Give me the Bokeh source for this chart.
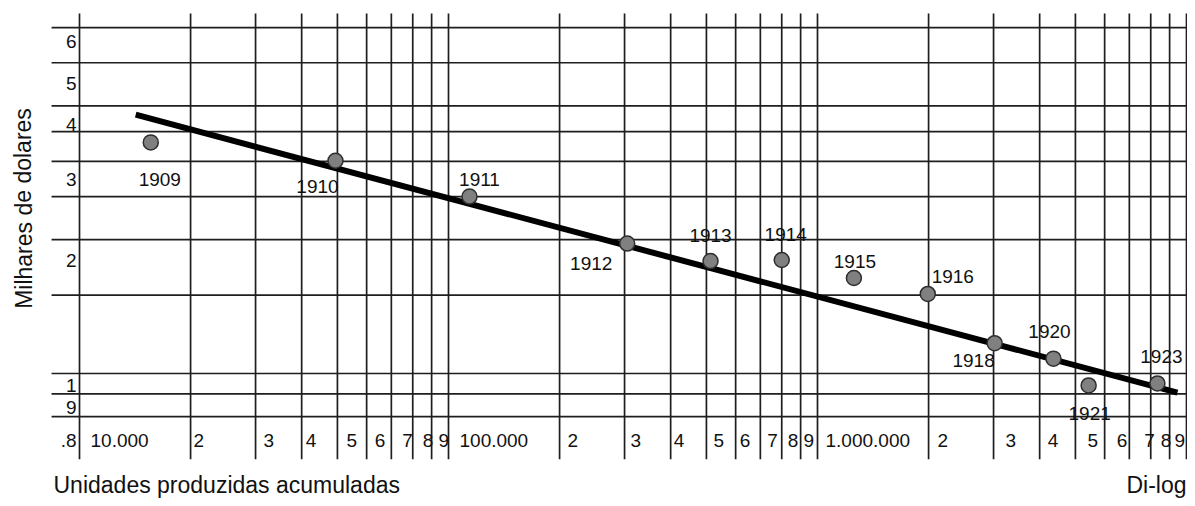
from bokeh.plotting import figure
from bokeh.models import Range1d, ColumnDataSource, Label
from bokeh.core.properties import value
from bokeh.embed import file_html
from bokeh.resources import INLINE

# ---------------- data ----------------
years = ["1909", "1910", "1911", "1912", "1913", "1914", "1915", "1916",
         "1918", "1920", "1921", "1923"]
units_cum = [15600, 49400, 114000, 305000, 513000, 800000, 1255000, 1990000,
             3020000, 4360000, 5430000, 8340000]
cost_thousand_usd = [3.31, 3.01, 2.50, 1.96, 1.79, 1.80, 1.64, 1.51,
                     1.17, 1.08, 0.94, 0.95]

trend_units = [14200, 9450000]
trend_cost = [3.82, 0.906]

x_grid = [m * 10 ** e for e in (4, 5, 6) for m in range(1, 10)] + [10 ** 7]
x_tick_vals = [m * 10 ** e for e in (4, 5, 6) for m in range(1, 10)]
x_tick_labels = (["10.000"] + [str(m) for m in range(2, 10)] +
                 ["100.000"] + [str(m) for m in range(2, 10)] +
                 ["1.000.000"] + [str(m) for m in range(2, 10)])
y_grid = [0.8, 0.9, 1, 1.5, 2, 2.5, 3, 3.5, 4, 5, 6]
y_tick_vals = [6, 5, 4, 3, 2, 1, 0.9, 0.8]
y_tick_labels = ["6", "5", "4", "3", "2", "1", "9", ".8"]

# ---------------- layout (pixel offsets of labels) ----------------
label_dx = [9, -18, 10, -36, 0, 4, 1, 25, -21, -4, 1, 4]
label_dy = [37, 26, -17, 20, -26, -26, -16, -17, 17, -27, 28, -27]
xtick_dx = [11, 3, 8, 4, 9, 8, 11, 10, 7,
            11, 8, 6, 3, 7, 4, 7, 6, 3,
            8, 9, 12, 8, 12, 12, 15, 10, 5]
ytick_dy = [14, 21, 19, 18, 21, 12, 14, 24]

FONT = value("Liberation Sans")
W, H = 1187, 498

p = figure(width=W, height=H, x_axis_type="log", y_axis_type="log",
           x_range=Range1d(6108, 10062600), y_range=Range1d(0.5234, 6.902),
           x_axis_location=None, y_axis_location=None,
           toolbar_location=None, output_backend="svg", min_border=0)
p.grid.visible = False
p.outline_line_color = None
p.background_fill_color = "white"
p.border_fill_color = "white"

GRID_Y_TOP, GRID_Y_BOT = 6.45, 0.641
GRID_X_LEFT, GRID_X_RIGHT = 8400, 2.0e7

# vertical grid lines
p.segment(x0=x_grid, y0=[GRID_Y_BOT] * len(x_grid), x1=x_grid,
          y1=[GRID_Y_TOP] * len(x_grid), line_color="#1e1e1e", line_width=1.7)
# horizontal grid lines
p.segment(x0=[GRID_X_LEFT] * len(y_grid), y0=y_grid,
          x1=[GRID_X_RIGHT] * len(y_grid), y1=y_grid,
          line_color="#1e1e1e", line_width=1.7)

# trend line
p.line(trend_units, trend_cost, line_color="black", line_width=6)

# points
src = ColumnDataSource(dict(x=units_cum, y=cost_thousand_usd, year=years,
                            dx=label_dx, dy=label_dy))
p.scatter("x", "y", source=src, size=15, fill_color="#808080",
          line_color="#2e2e2e", line_width=1.5)
p.text("x", "y", text="year", source=src, x_offset="dx", y_offset="dy",
       text_font=FONT, text_font_size="19px", text_color="#111111",
       text_align="center", text_baseline="middle")

# x tick labels
xsrc = ColumnDataSource(dict(x=x_tick_vals, y=[0.8] * len(x_tick_vals),
                             t=x_tick_labels, dx=xtick_dx))
p.text("x", "y", text="t", source=xsrc, x_offset="dx", y_offset=24,
       text_font=FONT, text_font_size="19px", text_color="#111111",
       text_align="left", text_baseline="middle")
# y tick labels
ysrc = ColumnDataSource(dict(x=[10 ** 4] * len(y_tick_vals), y=y_tick_vals,
                             t=y_tick_labels, dy=ytick_dy))
p.text("x", "y", text="t", source=ysrc, x_offset=-3, y_offset="dy",
       text_font=FONT, text_font_size="19px", text_color="#111111",
       text_align="right", text_baseline="middle")

# titles
p.add_layout(Label(x=23, y=H - 208, x_units="screen", y_units="screen",
                   text="Milhares de dolares", angle=1.5708,
                   text_font="Liberation Sans", text_font_size="23px",
                   text_color="#111111", text_align="center",
                   text_baseline="middle"))
p.add_layout(Label(x=53, y=1, x_units="screen", y_units="screen",
                   text="Unidades produzidas acumuladas",
                   text_font="Liberation Sans", text_font_size="23px",
                   text_color="#111111", text_align="left",
                   text_baseline="bottom"))
p.add_layout(Label(x=1186, y=1, x_units="screen", y_units="screen",
                   text="Di-log", text_font="Liberation Sans",
                   text_font_size="23px", text_color="#111111",
                   text_align="right", text_baseline="bottom"))

open("out.html", "w").write(file_html(p, INLINE))
